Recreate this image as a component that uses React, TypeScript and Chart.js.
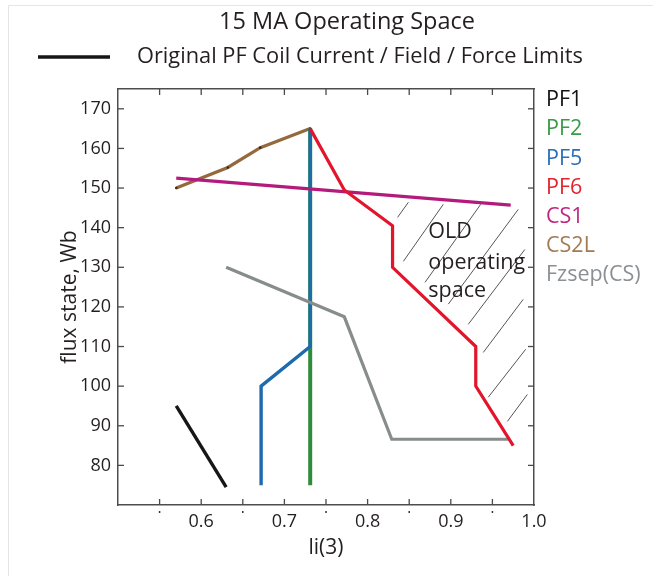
import React, { useEffect, useRef } from "react";
import { Chart, registerables } from "chart.js";

Chart.register(...registerables);

// ---------- data ----------
const xMinLi = 0.5;
const xMaxLi = 1.0;
const yMinFlux = 70;
const yMaxFlux = 175;

const pf1Li = [0.57, 0.63];
const pf1Flux = [95, 74.5];

const pf2Li = [0.731, 0.731];
const pf2Flux = [75, 165];

const pf5Li = [0.672, 0.672, 0.731, 0.731];
const pf5Flux = [75, 100, 110, 165];

const pf6Li = [0.731, 0.772, 0.83, 0.83, 0.93, 0.93, 0.975];
const pf6Flux = [165, 149.5, 140.5, 130, 110, 100, 85];

const cs1Li = [0.57, 0.972];
const cs1Flux = [152.5, 145.7];

const cs2lLi = [0.57, 0.632, 0.671, 0.731];
const cs2lFlux = [150, 155.2, 160.2, 165];

const fzsepLi = [0.63, 0.772, 0.829, 0.969];
const fzsepFlux = [130, 117.5, 86.6, 86.6];

// hatch segments of the "OLD operating space"
const hatchStartLi = [0.836, 0.843, 0.869, 0.897, 0.921, 0.939, 0.945, 0.968];
const hatchStartFlux = [142.6, 131.5, 126.2, 120.7, 115.6, 108.5, 97.2, 91.1];
const hatchEndLi = [0.849, 0.891, 0.936, 0.981, 0.989, 0.987, 0.99, 0.992];
const hatchEndFlux = [146.4, 145.9, 145.9, 144.6, 134.5, 121.9, 109.3, 97.9];

const legendLabels = ["PF1", "PF2", "PF5", "PF6", "CS1", "CS2L", "Fzsep(CS)"];
const legendColors = ["#141414", "#3b9a48", "#2a6fb8", "#e5232f", "#c0257f", "#a27b52", "#8b9094"];

const oldSpaceLines = ["OLD", "operating", "space"];
const oldSpaceLi = 0.873;
const oldSpaceFlux = [137.3, 129.5, 122.4];

const titleText = "15 MA Operating Space";
const subtitleText = "Original PF Coil Current / Field / Force Limits";
const xTitle = "li(3)";
const yTitle = "flux state, Wb";

// ---------- helpers ----------
const FONT = "'Open Sans', 'Noto Sans', sans-serif";
const TEXT = "#231f20";
const zip = (xs: number[], ys: number[]) => xs.map((x, i) => ({ x, y: ys[i] }));

function hatchData() {
  const out: any[] = [];
  hatchStartLi.forEach((x, i) => {
    out.push({ x, y: hatchStartFlux[i] });
    out.push({ x: hatchEndLi[i], y: hatchEndFlux[i] });
    out.push({ x: hatchEndLi[i], y: null });
  });
  return out;
}

const decorPlugin = {
  id: "decor",
  afterDraw(chart: any) {
    const { ctx, chartArea: a, scales } = chart;
    const xs = scales.x;
    const ys = scales.y;
    ctx.save();

    // light frame of the figure
    ctx.strokeStyle = "#e4e4e4";
    ctx.lineWidth = 1;
    ctx.beginPath();
    ctx.moveTo(8.5, 576);
    ctx.lineTo(8.5, 5.5);
    ctx.lineTo(653, 5.5);
    ctx.stroke();

    // inward tick marks on all four sides
    ctx.strokeStyle = "#4a4a4a";
    ctx.lineWidth = 1.3;
    const seg = (x1: number, y1: number, x2: number, y2: number) => {
      ctx.beginPath();
      ctx.moveTo(x1, y1);
      ctx.lineTo(x2, y2);
      ctx.stroke();
    };
    xs.ticks.forEach((t: any) => {
      const px = xs.getPixelForValue(t.value);
      if (px <= a.left + 1 || px >= a.right - 1) return;
      seg(px, a.bottom, px, a.bottom - 6);
      seg(px, a.top, px, a.top + 6);
      const tenth = Math.abs(t.value * 10 - Math.round(t.value * 10)) < 1e-6;
      if (!tenth) {
        ctx.fillStyle = "#333";
        ctx.fillRect(px - 0.75, a.bottom + 6, 1.5, 2);
      }
    });
    ys.ticks.forEach((t: any) => {
      const py = ys.getPixelForValue(t.value);
      if (py <= a.top + 1 || py >= a.bottom - 1) return;
      seg(a.left, py, a.left + 6, py);
      seg(a.right, py, a.right - 6, py);
    });

    // title and header legend
    ctx.fillStyle = TEXT;
    ctx.textBaseline = "middle";
    ctx.textAlign = "center";
    ctx.font = `23.5px ${FONT}`;
    ctx.fillText(titleText, 347, 22);

    ctx.strokeStyle = "#161616";
    ctx.lineWidth = 3.5;
    seg(38, 57, 110, 57);
    ctx.textAlign = "left";
    ctx.font = `21.8px ${FONT}`;
    ctx.fillText(subtitleText, 137, 57);

    // right legend (colored labels)
    ctx.font = `21.5px ${FONT}`;
    legendLabels.forEach((lab, i) => {
      ctx.fillStyle = legendColors[i];
      ctx.fillText(lab, 546, 100 + i * 29.2);
    });

    // annotation inside the plot
    ctx.fillStyle = TEXT;
    ctx.textBaseline = "alphabetic";
    ctx.font = `21.5px ${FONT}`;
    oldSpaceLines.forEach((s, i) => {
      ctx.fillText(s, xs.getPixelForValue(oldSpaceLi), ys.getPixelForValue(oldSpaceFlux[i]));
    });

    ctx.restore();
  },
};

export default function App() {
  const ref = useRef<HTMLCanvasElement | null>(null);

  useEffect(() => {
    if (!ref.current) return;
    Chart.defaults.font.family = FONT;
    Chart.defaults.color = TEXT;

    const line = (label: string, xs: number[], ys: number[], color: string, width: number, extra: any = {}) => ({
      label,
      data: zip(xs, ys),
      borderColor: color,
      backgroundColor: color,
      borderWidth: width,
      showLine: true,
      pointRadius: 0,
      fill: false,
      tension: 0,
      ...extra,
    });

    const chart = new Chart(ref.current, {
      type: "scatter",
      data: {
        datasets: [
          line("PF6", pf6Li, pf6Flux, "#e3152b", 3.2),
          line("CS1", cs1Li, cs1Flux, "#b41a7c", 3.2),
          line("Fzsep(CS)", fzsepLi, fzsepFlux, "#878c8c", 3.2),
          line("PF5", pf5Li, pf5Flux, "#1d6aae", 3.4),
          line("PF2", pf2Li, pf2Flux, "#2f8c3c", 4),
          line("CS2L", cs2lLi, cs2lFlux, "#94693d", 3.2, {
            pointRadius: 1.3,
            pointBackgroundColor: "#3a2a1a",
            pointBorderWidth: 0,
          }),
          line("PF1", pf1Li, pf1Flux, "#161616", 3.4),
          {
            label: "hatch",
            data: hatchData(),
            borderColor: "#555",
            borderWidth: 1,
            showLine: true,
            spanGaps: false,
            pointRadius: 0,
            fill: false,
          },
        ],
      },
      options: {
        responsive: false,
        animation: false,
        layout: { padding: { left: 0, top: 89, right: 119, bottom: 0 } },
        plugins: {
          legend: { display: false },
          title: { display: false },
          tooltip: { enabled: false },
        },
        scales: {
          x: {
            type: "linear",
            position: "bottom",
            min: xMinLi,
            max: xMaxLi,
            afterFit: (s: any) => {
              s.height = 71;
            },
            grid: { display: true, drawOnChartArea: false, drawTicks: false },
            border: { display: true, color: "#4d4d4d", width: 1.5 },
            ticks: {
              stepSize: 0.05,
              padding: 6,
              color: TEXT,
              font: { size: 18 },
              maxRotation: 0,
              autoSkip: false,
              callback: (v: any) => {
                const n = Number(v);
                const tenth = Math.abs(n * 10 - Math.round(n * 10)) < 1e-6;
                return tenth && n > 0.55 ? n.toFixed(1) : "";
              },
            },
            title: {
              display: true,
              text: xTitle,
              color: TEXT,
              font: { size: 21 },
              padding: { top: 0, bottom: 15 },
            },
          },
          y: {
            type: "linear",
            position: "left",
            min: yMinFlux,
            max: yMaxFlux,
            afterFit: (s: any) => {
              s.width = 118;
            },
            grid: { display: true, drawOnChartArea: false, drawTicks: false },
            border: { display: true, color: "#4d4d4d", width: 1.5 },
            ticks: {
              stepSize: 10,
              includeBounds: false,
              padding: 7,
              color: TEXT,
              font: { size: 18 },
              callback: (v: any) => (Number(v) > yMinFlux ? String(v) : ""),
            },
            title: {
              display: true,
              text: yTitle,
              color: TEXT,
              font: { size: 21 },
              padding: { top: 57, bottom: 0 },
            },
          },
          x2: {
            type: "linear",
            position: "top",
            min: xMinLi,
            max: xMaxLi,
            afterFit: (s: any) => {
              s.height = 0;
            },
            grid: { display: true, drawOnChartArea: false, drawTicks: false },
            border: { display: true, color: "#4d4d4d", width: 1.5 },
            ticks: { display: false },
          },
          y2: {
            type: "linear",
            position: "right",
            min: yMinFlux,
            max: yMaxFlux,
            afterFit: (s: any) => {
              s.width = 0;
            },
            grid: { display: true, drawOnChartArea: false, drawTicks: false },
            border: { display: true, color: "#4d4d4d", width: 1.5 },
            ticks: { display: false },
          },
        },
      } as any,
      plugins: [decorPlugin],
    });

    return () => chart.destroy();
  }, []);

  return (
    <div style={{ position: "fixed", left: 0, top: 0, width: 653, height: 576, background: "#fff" }}>
      <canvas ref={ref} width={653} height={576} style={{ display: "block" }} />
    </div>
  );
}
